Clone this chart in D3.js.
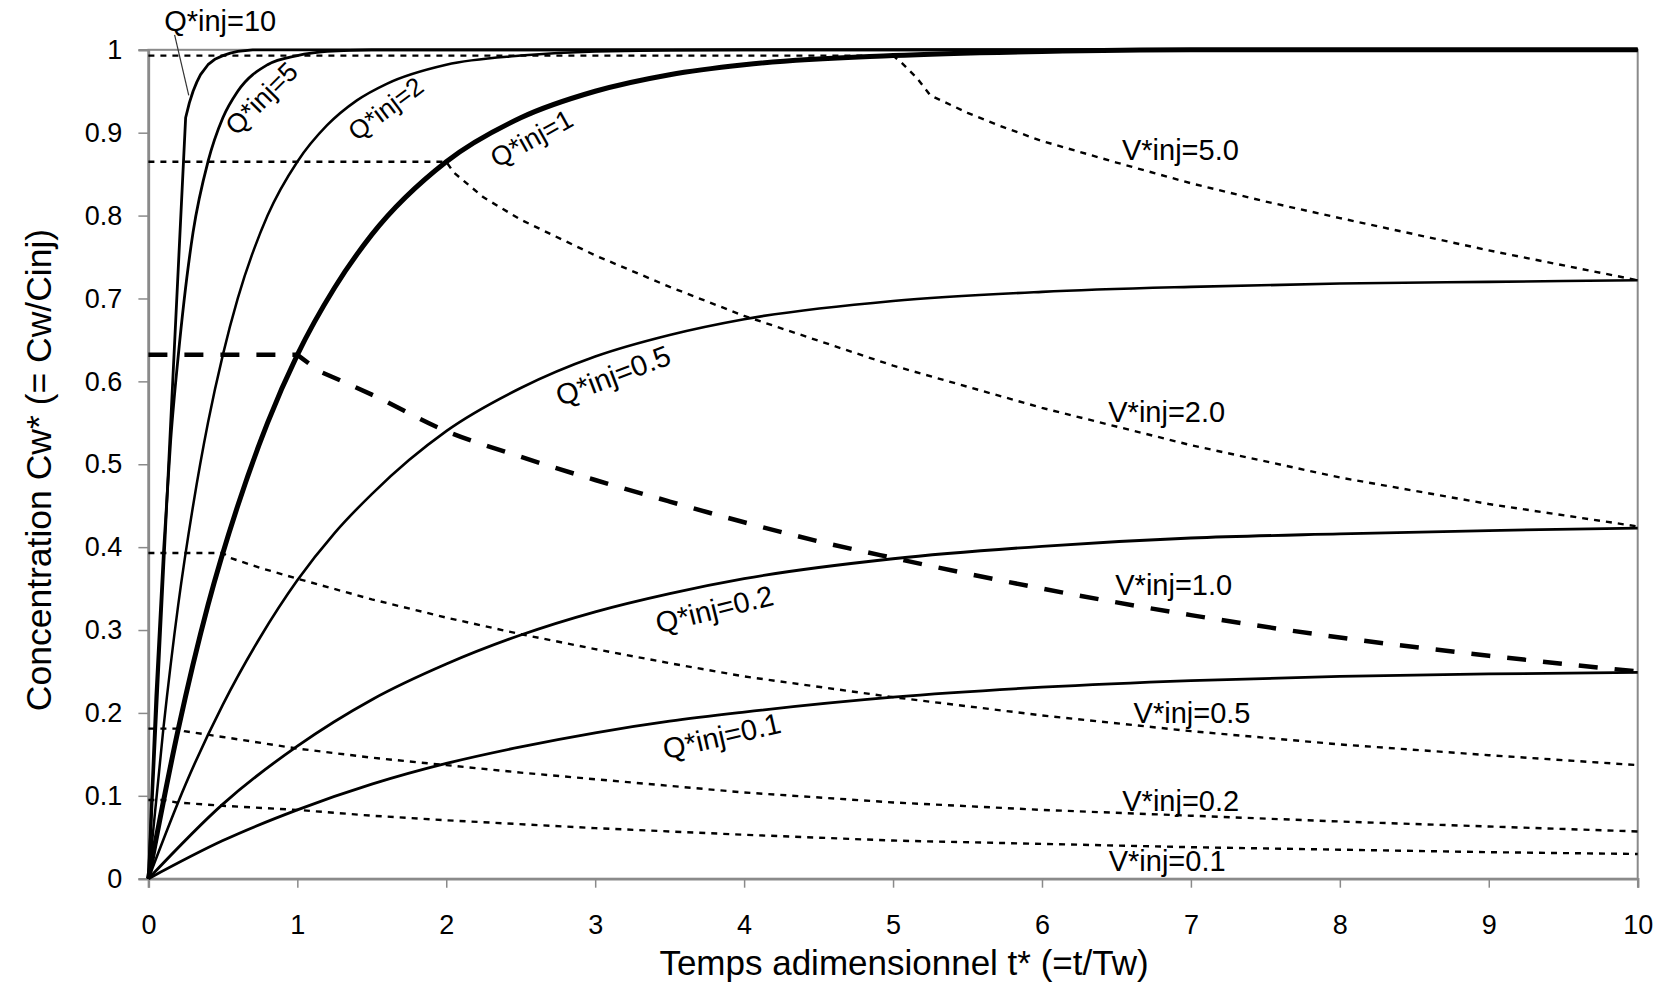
<!DOCTYPE html>
<html>
<head>
<meta charset="utf-8">
<script src="https://cdn.jsdelivr.net/npm/d3@7"></script>
<style>
  html, body { margin: 0; padding: 0; background: #ffffff; }
  svg { display: block; font-family: "Liberation Sans", Arial, Helvetica, sans-serif; }
</style>
</head>
<body>
<svg id="chart" width="1662" height="987"></svg>
<script>
// ---- axis ticks ----
const timeTicks = [0, 1, 2, 3, 4, 5, 6, 7, 8, 9, 10];
const concTicks = [0, 0.1, 0.2, 0.3, 0.4, 0.5, 0.6, 0.7, 0.8, 0.9, 1];
const concTickLabels = ["0", "0.1", "0.2", "0.3", "0.4", "0.5", "0.6", "0.7", "0.8", "0.9", "1"];

// ---- concentration curves for a constant injection rate Q*inj : [t*, Cw*] ----
const qInj10 = [[0, 0], [0.25, 0.918], [0.275, 0.936], [0.3, 0.95], [0.325, 0.961], [0.35, 0.97],
  [0.4, 0.982], [0.45, 0.989], [0.5, 0.993], [0.55, 0.996], [0.6, 0.998], [0.7, 1], [10, 1]];
const qInj5 = [[0, 0], [0.05, 0.22], [0.1, 0.39], [0.15, 0.53], [0.2, 0.63], [0.3, 0.78], [0.4, 0.865],
  [0.5, 0.918], [0.6, 0.95], [0.8, 0.982], [1, 0.993], [1.2, 0.998], [1.5, 1], [10, 1]];
const qInj2 = [[0, 0], [0.1, 0.18], [0.2, 0.33], [0.3, 0.45], [0.4, 0.55], [0.5, 0.632], [0.6, 0.7],
  [0.8, 0.8], [1, 0.865], [1.2, 0.909], [1.4, 0.939], [1.6, 0.959], [2, 0.982], [2.5, 0.993],
  [3, 0.998], [4, 1], [10, 1]];
const qInj1 = [[0, 0], [0.2, 0.18], [0.4, 0.33], [0.6, 0.45], [0.8, 0.55], [1, 0.632], [1.25, 0.713],
  [1.5, 0.777], [2, 0.865], [2.5, 0.918], [3, 0.95], [3.5, 0.97], [4, 0.982], [5, 0.993], [6, 0.998],
  [7, 1], [10, 1]];
const qInj05 = [[0, 0], [0.25, 0.114], [0.5, 0.21], [0.75, 0.291], [1, 0.36], [1.25, 0.417],
  [1.5, 0.464], [1.75, 0.505], [2, 0.54], [2.5, 0.592], [3, 0.63], [3.5, 0.656], [4, 0.675],
  [5, 0.697], [6, 0.708], [7, 0.714], [8, 0.718], [9, 0.72], [10, 0.722]];
const qInj02 = [[0, 0], [0.5, 0.09], [1, 0.16], [1.5, 0.216], [2, 0.259], [2.5, 0.294], [3, 0.322],
  [3.5, 0.344], [4, 0.362], [5, 0.386], [6, 0.401], [7, 0.411], [8, 0.416], [9, 0.42], [10, 0.423]];
const qInj01 = [[0, 0], [0.5, 0.046], [1, 0.083], [1.5, 0.114], [2, 0.139], [2.5, 0.159], [3, 0.176],
  [3.5, 0.19], [4, 0.201], [5, 0.219], [6, 0.231], [7, 0.239], [8, 0.244], [9, 0.247], [10, 0.249]];

// ---- concentration at the end of injection for a fixed injected volume V*inj ----
const vInj5 = [[0, 0.993], [5, 0.993], [5.06, 0.984], [5.16, 0.966], [5.25, 0.945], [5.5, 0.924],
  [5.75, 0.906], [6, 0.89], [6.5, 0.864], [7, 0.839], [7.5, 0.817], [8, 0.797], [9, 0.758], [10, 0.722]];
const vInj2 = [[0, 0.865], [2, 0.865], [2.05, 0.852], [2.25, 0.822], [2.5, 0.795], [3, 0.752],
  [3.5, 0.714], [4, 0.679], [5, 0.619], [6, 0.568], [7, 0.523], [8, 0.484], [9, 0.452], [10, 0.425]];
const vInj1 = [[0, 0.632], [1, 0.632], [1.15, 0.612], [1.5, 0.584], [2, 0.54], [2.5, 0.509], [3, 0.481],
  [3.5, 0.455], [4, 0.43], [4.5, 0.407], [5, 0.387], [6, 0.35], [7, 0.318], [8, 0.291], [9, 0.269],
  [10, 0.25]];
const vInj05 = [[0, 0.393], [0.5, 0.393], [0.55, 0.387], [0.75, 0.375], [1, 0.362], [1.5, 0.337],
  [2, 0.315], [2.5, 0.295], [3, 0.277], [3.5, 0.26], [4, 0.244], [5, 0.219], [6, 0.197], [7, 0.178],
  [8, 0.162], [9, 0.149], [10, 0.137]];
const vInj02 = [[0, 0.181], [0.2, 0.181], [0.24, 0.178], [0.5, 0.171], [1, 0.157], [1.5, 0.146],
  [2, 0.137], [2.5, 0.128], [3, 0.12], [3.5, 0.112], [4, 0.104], [5, 0.092], [6, 0.083], [7, 0.076],
  [8, 0.069], [9, 0.063], [10, 0.057]];
const vInj01 = [[0, 0.095], [0.1, 0.095], [0.19, 0.092], [0.5, 0.088], [1, 0.083], [1.5, 0.076],
  [2, 0.0705], [3, 0.061], [4, 0.053], [5, 0.046], [6, 0.042], [7, 0.038], [8, 0.035], [9, 0.032],
  [10, 0.0298]];

const qNames = ["Q*inj=10", "Q*inj=5", "Q*inj=2", "Q*inj=1", "Q*inj=0.5", "Q*inj=0.2", "Q*inj=0.1"];
const vNames = ["V*inj=5.0", "V*inj=2.0", "V*inj=1.0", "V*inj=0.5", "V*inj=0.2", "V*inj=0.1"];
const xTitle = "Temps adimensionnel t* (=t/Tw)";
const yTitle = "Concentration Cw* (= Cw/Cinj)";

// ---- drawing ----
const svg = d3.select("#chart");
const plot = { left: 148.4, right: 1637.7, top: 49.8, bottom: 878.7 };

const x = d3.scaleLinear().domain([0, 10]).range([plot.left, plot.right]);
const y = d3.scaleLinear().domain([0, 1]).range([plot.bottom, plot.top]);

const axisGrey = "#8a8a8a";
const tickFont = 27;

// plot-area frame
svg.append("rect")
  .attr("x", x(0)).attr("y", y(1))
  .attr("width", x(10) - x(0)).attr("height", y(0) - y(1))
  .attr("fill", "none").attr("stroke", axisGrey).attr("stroke-width", 2);

// x axis
const gx = svg.append("g")
  .attr("transform", `translate(0,${y(0)})`)
  .call(d3.axisBottom(x).tickValues(timeTicks).tickSize(9).tickPadding(27).tickFormat(d3.format("d")));
gx.select(".domain").attr("stroke", axisGrey).attr("stroke-width", 2.5);
gx.selectAll(".tick line").attr("stroke", axisGrey).attr("stroke-width", 1.5);
gx.selectAll(".tick text").attr("fill", "#000").style("font-size", tickFont + "px")
  .style("font-family", '"Liberation Sans", Arial, sans-serif');

// y axis
const gy = svg.append("g")
  .attr("transform", `translate(${x(0)},0)`)
  .call(d3.axisLeft(y).tickValues(concTicks).tickSize(10).tickPadding(16)
    .tickFormat((d, i) => concTickLabels[i]));
gy.select(".domain").attr("stroke", axisGrey).attr("stroke-width", 2.5);
gy.selectAll(".tick line").attr("stroke", axisGrey).attr("stroke-width", 1.5);
gy.selectAll(".tick text").attr("fill", "#000").style("font-size", tickFont + "px")
  .style("font-family", '"Liberation Sans", Arial, sans-serif');

// axis titles
svg.append("text")
  .attr("x", 904).attr("y", 975)
  .attr("text-anchor", "middle")
  .style("font-size", "35px")
  .text(xTitle);

svg.append("text")
  .attr("transform", `translate(38,470) rotate(-90)`)
  .attr("text-anchor", "middle")
  .attr("dy", "0.36em")
  .style("font-size", "35.5px")
  .text(yTitle);

const smooth = d3.line().x(d => x(d[0])).y(d => y(d[1])).curve(d3.curveMonotoneX);
const straight = d3.line().x(d => x(d[0])).y(d => y(d[1])).curve(d3.curveLinear);

// plateau drawn straight, decline drawn smooth
function smoothTail(pts) {
  const head = straight(pts.slice(0, 3));
  const tail = smooth(pts.slice(2));
  return head + tail.replace(/^M[^LC]*/, "");
}

// fixed-volume curves (dashed)
const vSeries = [
  { data: vInj5, width: 2.4, dash: "6,6", gen: straight },
  { data: vInj2, width: 2.4, dash: "6,6", gen: straight },
  { data: vInj1, width: 4.5, dash: "19,17", gen: smoothTail },
  { data: vInj05, width: 2.4, dash: "6,6", gen: straight },
  { data: vInj02, width: 2.4, dash: "6,6", gen: straight },
  { data: vInj01, width: 2.4, dash: "6,6", gen: straight }
];
svg.append("g").selectAll("path").data(vSeries).join("path")
  .attr("d", d => d.gen(d.data))
  .attr("fill", "none").attr("stroke", "#000")
  .attr("stroke-width", d => d.width)
  .attr("stroke-dasharray", d => d.dash);

// fixed-rate curves (solid)
const qSeries = [
  { data: qInj10, width: 2.8, gen: straight },
  { data: qInj5, width: 2.8, gen: smooth },
  { data: qInj2, width: 2.5, gen: smooth },
  { data: qInj1, width: 5, gen: smooth },
  { data: qInj05, width: 2.6, gen: smooth },
  { data: qInj02, width: 2.8, gen: smooth },
  { data: qInj01, width: 2.8, gen: smooth }
];
svg.append("g").selectAll("path").data(qSeries).join("path")
  .attr("d", d => d.gen(d.data))
  .attr("fill", "none").attr("stroke", "#000")
  .attr("stroke-width", d => d.width)
  .attr("stroke-linejoin", "round");

// curve labels: anchor point in data units, rotation in degrees
const qLabels = [
  { t: 0.106, c: 1.0226, rot: 0, size: 29, anchor: "start", baseline: "alphabetic" },
  { t: 0.761, c: 0.941, rot: -45, size: 27, anchor: "middle", baseline: "central" },
  { t: 1.594, c: 0.929, rot: -37, size: 26, anchor: "middle", baseline: "central" },
  { t: 2.574, c: 0.8927, rot: -29, size: 27, anchor: "middle", baseline: "central" },
  { t: 3.12, c: 0.607, rot: -21, size: 29, anchor: "middle", baseline: "central" },
  { t: 3.8, c: 0.325, rot: -14, size: 29, anchor: "middle", baseline: "central" },
  { t: 3.85, c: 0.172, rot: -13, size: 29, anchor: "middle", baseline: "central" }
];
const vLabels = [
  { t: 6.537, c: 0.867 },
  { t: 6.445, c: 0.5513 },
  { t: 6.492, c: 0.3423 },
  { t: 6.615, c: 0.1875 },
  { t: 6.539, c: 0.0817 },
  { t: 6.448, c: 0.0093 }
];

const labelG = svg.append("g");
labelG.selectAll("text.q").data(qLabels).join("text")
  .attr("class", "q")
  .attr("transform", d => `translate(${x(d.t)},${y(d.c)}) rotate(${d.rot})`)
  .attr("text-anchor", d => d.anchor)
  .attr("dominant-baseline", d => d.baseline)
  .style("font-size", d => d.size + "px")
  .text((d, i) => qNames[i]);

labelG.selectAll("text.v").data(vLabels).join("text")
  .attr("class", "v")
  .attr("x", d => x(d.t)).attr("y", d => y(d.c))
  .style("font-size", "29px")
  .text((d, i) => vNames[i]);

// leader from the Q*inj=10 label down to its curve
svg.append("line")
  .attr("x1", x(0.176)).attr("y1", y(1.018))
  .attr("x2", x(0.271)).attr("y2", y(0.945))
  .attr("stroke", "#333").attr("stroke-width", 1.2);
</script>
</body>
</html>
